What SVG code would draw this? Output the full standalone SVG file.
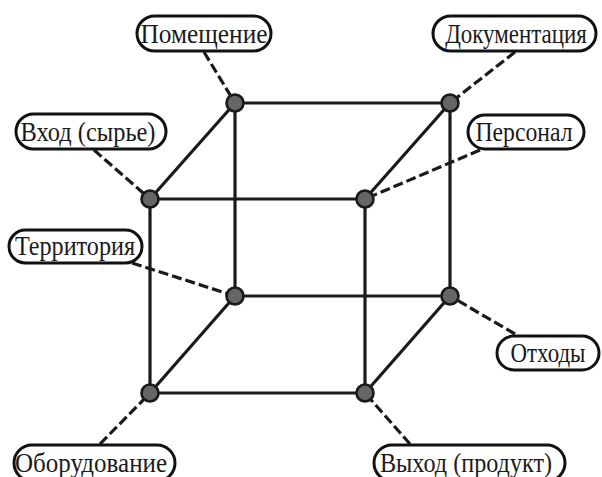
<svg xmlns="http://www.w3.org/2000/svg" width="602" height="477" viewBox="0 0 602 477">
<style>
.edge{stroke:#1a1a1a;stroke-width:3.2;fill:none;stroke-linecap:butt}
.dash{stroke:#1a1a1a;stroke-width:3.2;fill:none;stroke-dasharray:10 4}
.pt{fill:#666;stroke:#1a1a1a;stroke-width:2.6}
.lbl{fill:#fff;stroke:#111;stroke-width:3}
.t{font-family:"Liberation Serif","Times New Roman",serif;font-size:27px;fill:#1a1a1a;text-anchor:middle}
</style>
<rect width="602" height="477" fill="#fff"/>
<g id="connectors">
<line class="edge" x1="235" y1="103" x2="450" y2="103"/>
<line class="edge" x1="150" y1="199" x2="365" y2="199"/>
<line class="edge" x1="235" y1="296" x2="450" y2="296"/>
<line class="edge" x1="150" y1="393" x2="365" y2="393"/>
<line class="edge" x1="235" y1="103" x2="235" y2="296"/>
<line class="edge" x1="450" y1="103" x2="450" y2="296"/>
<line class="edge" x1="150" y1="199" x2="150" y2="393"/>
<line class="edge" x1="365" y1="199" x2="365" y2="393"/>
<line class="edge" x1="235" y1="103" x2="150" y2="199"/>
<line class="edge" x1="450" y1="103" x2="365" y2="199"/>
<line class="edge" x1="235" y1="296" x2="150" y2="393"/>
<line class="edge" x1="450" y1="296" x2="365" y2="393"/>
<line class="dash" x1="204" y1="52" x2="235" y2="103"/>
<line class="dash" x1="515" y1="52" x2="450" y2="103"/>
<line class="dash" x1="94" y1="150" x2="150" y2="199"/>
<line class="dash" x1="480" y1="150" x2="365" y2="199"/>
<line class="dash" x1="132" y1="263" x2="235" y2="296"/>
<line class="dash" x1="515" y1="334" x2="450" y2="296"/>
<line class="dash" x1="100" y1="444" x2="150" y2="393"/>
<line class="dash" x1="410" y1="444" x2="365" y2="393"/>
</g>
<g id="n-tbl"><circle class="pt" cx="235" cy="103" r="8.5"/></g>
<g id="n-tbr"><circle class="pt" cx="450" cy="103" r="8.5"/></g>
<g id="n-tfl"><circle class="pt" cx="150" cy="199" r="8.5"/></g>
<g id="n-tfr"><circle class="pt" cx="365" cy="199" r="8.5"/></g>
<g id="n-bbl"><circle class="pt" cx="235" cy="296" r="8.5"/></g>
<g id="n-bbr"><circle class="pt" cx="450" cy="296" r="8.5"/></g>
<g id="n-bfl"><circle class="pt" cx="150" cy="393" r="8.5"/></g>
<g id="n-bfr"><circle class="pt" cx="365" cy="393" r="8.5"/></g>
<g id="l-pomeshchenie"><rect class="lbl" x="137" y="16" width="134" height="35" rx="17.5"/><text class="t" x="204" y="42.5" textLength="127" lengthAdjust="spacingAndGlyphs">Помещение</text></g>
<g id="l-dokumentatsiya"><rect class="lbl" x="433" y="16" width="163" height="35" rx="17.5"/><text class="t" transform="translate(516 42.5) scale(0.85 1)" x="0" y="0">Документация</text></g>
<g id="l-vkhod"><rect class="lbl" x="16" y="114" width="150" height="35" rx="17.5"/><text class="t" x="88" y="140.5" textLength="135" lengthAdjust="spacingAndGlyphs">Вход (сырье)</text></g>
<g id="l-personal"><rect class="lbl" x="468" y="115" width="116" height="34" rx="17"/><text class="t" x="524" y="140.5" textLength="97" lengthAdjust="spacingAndGlyphs">Персонал</text></g>
<g id="l-territoriya"><rect class="lbl" x="9" y="230" width="133" height="33" rx="16.5"/><text class="t" x="75" y="255" textLength="120" lengthAdjust="spacingAndGlyphs">Территория</text></g>
<g id="l-otkhody"><rect class="lbl" x="497" y="336" width="102" height="34" rx="17"/><text class="t" x="548" y="362" textLength="75" lengthAdjust="spacingAndGlyphs">Отходы</text></g>
<g id="l-oborudovanie"><rect class="lbl" x="14" y="445" width="161" height="36" rx="18"/><text class="t" x="91" y="472" textLength="152" lengthAdjust="spacingAndGlyphs">Оборудование</text></g>
<g id="l-vykhod"><rect class="lbl" x="374" y="445" width="191" height="36" rx="18"/><text class="t" x="466" y="472" textLength="172" lengthAdjust="spacingAndGlyphs">Выход (продукт)</text></g>
</svg>
